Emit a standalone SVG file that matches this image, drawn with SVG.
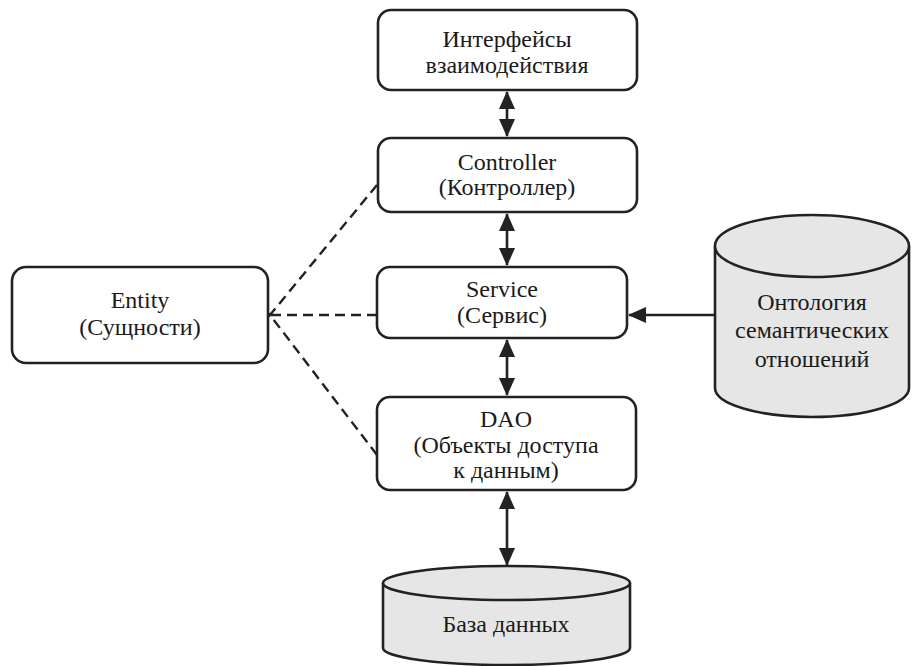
<svg xmlns="http://www.w3.org/2000/svg" width="912" height="666" viewBox="0 0 912 666">
<defs>
<marker id="ah" viewBox="0 0 18 16" refX="17" refY="8" markerWidth="18" markerHeight="16" markerUnits="userSpaceOnUse" orient="auto-start-reverse">
<path d="M0,0 L18,8 L0,16 Z" fill="#222"/>
</marker>
<marker id="open" viewBox="0 0 12 18" refX="1.5" refY="9" markerWidth="12" markerHeight="18" markerUnits="userSpaceOnUse" orient="auto">
<path d="M10,1.5 L1.5,9 L10,16.5" fill="none" stroke="#222" stroke-width="2.4"/>
</marker>
<style>
.box{fill:#fff;stroke:#222;stroke-width:2.6}
.cyl{fill:#e6e6e6;stroke:#222;stroke-width:2.6}
.solid{stroke:#222;stroke-width:2.6;fill:none}
.dash{stroke:#222;stroke-width:2.4;fill:none;stroke-dasharray:10 6}
text{font-family:"Liberation Serif",Tinos,"Times New Roman",Times,serif;font-size:24px;fill:#1a1a1a;text-anchor:middle}
</style>
</defs>
<g id="connectors">
<line class="solid" x1="507" y1="92" x2="507" y2="136" marker-start="url(#ah)" marker-end="url(#ah)"/>
<line class="solid" x1="507" y1="214" x2="507" y2="265" marker-start="url(#ah)" marker-end="url(#ah)"/>
<line class="solid" x1="507" y1="340" x2="507" y2="395" marker-start="url(#ah)" marker-end="url(#ah)"/>
<line class="solid" x1="507" y1="492" x2="507" y2="565" marker-start="url(#ah)" marker-end="url(#ah)"/>
<line class="solid" x1="715" y1="315" x2="629" y2="315" marker-end="url(#ah)"/>
<line class="dash" x1="377" y1="315" x2="270" y2="315" marker-end="url(#open)"/>
<line class="dash" x1="377" y1="185" x2="270" y2="315"/>
<line class="dash" x1="377" y1="455" x2="270" y2="315"/>
</g>
<g id="interfaces">
<rect class="box" x="378" y="10" width="259" height="80" rx="13"/>
<text x="507" y="47">Интерфейсы</text>
<text x="507" y="73">взаимодействия</text>
</g>
<g id="controller">
<rect class="box" x="378" y="138" width="259" height="74" rx="13"/>
<text x="507" y="170">Controller</text>
<text x="507" y="195">(Контроллер)</text>
</g>
<g id="service">
<rect class="box" x="377" y="267" width="250" height="71" rx="13"/>
<text x="502" y="297">Service</text>
<text x="502" y="323">(Сервис)</text>
</g>
<g id="dao">
<rect class="box" x="377" y="397" width="259" height="93" rx="13"/>
<text x="506" y="427">DAO</text>
<text x="506" y="453">(Объекты доступа</text>
<text x="506" y="478">к данным)</text>
</g>
<g id="entity">
<rect class="box" x="12" y="267" width="256" height="96" rx="14"/>
<text x="140" y="308">Entity</text>
<text x="140" y="335">(Сущности)</text>
</g>
<g id="ontology">
<path class="cyl" d="M715,246 L715,388 A97,29 0 0 0 909,388 L909,246"/>
<ellipse class="cyl" cx="812" cy="246" rx="97" ry="31"/>
<text x="812" y="310">Онтология</text>
<text x="812" y="338">семантических</text>
<text x="812" y="367">отношений</text>
</g>
<g id="database">
<path class="cyl" d="M383,583 L383,648 A123.5,17 0 0 0 630,648 L630,583"/>
<ellipse class="cyl" cx="506.5" cy="583" rx="123.5" ry="17"/>
<text x="506" y="632">База данных</text>
</g>
</svg>
